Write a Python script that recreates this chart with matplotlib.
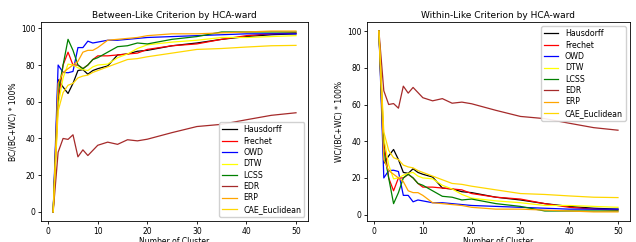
import matplotlib
matplotlib.use("Agg")
import matplotlib.pyplot as plt

clusters = [1, 2, 3, 4, 5, 6, 7, 8, 9, 10, 12, 14, 16, 18, 20, 25, 30, 35, 40, 45, 50]
methods = ["Hausdorff", "Frechet", "OWD", "DTW", "LCSS", "EDR", "ERP", "CAE_Euclidean"]
colors = ["black", "red", "blue", "yellow", "green", "brown", "orange", "gold"]

between_hausdorff = [0, 72, 68, 64.5, 70, 77, 77.5, 75, 77, 78, 79.5, 85.5, 86, 87.5, 88, 90.5, 92, 94, 95.5, 96.5, 97]
between_frechet = [0, 60, 80, 87, 80, 80, 78, 80, 83, 85, 85, 85.5, 86, 86.5, 88.5, 90.5, 91.5, 94, 96, 97, 97.5]
between_owd = [0, 80, 76, 75.8, 76.5, 89.5, 89.5, 93, 92, 92.5, 93.5, 93.5, 94, 94.5, 95, 95.5, 96, 96.5, 97, 97, 97]
between_dtw = [0, 58, 73, 80.5, 80, 78.5, 77.5, 77, 79, 80, 80.5, 84, 86, 89, 91, 92.5, 93.5, 95, 95, 95.5, 96]
between_lcss = [0, 65, 80, 94, 88, 80, 78, 80, 83, 84, 87, 90, 90.5, 92, 91.5, 94, 95.5, 98, 98, 98, 98]
between_edr = [0, 32.5, 40, 39.5, 42, 30, 33.8, 30.7, 33.5, 36.3, 38, 36.8, 39.3, 38.7, 39.6, 43.2, 46.5, 47.7, 50.2, 52.6, 54]
between_erp = [0, 70, 76, 78, 80, 82, 87, 88, 88, 89.5, 93.5, 94, 94.5, 95, 96, 97, 97, 97.5, 98, 98.5, 98.5]
between_cae = [0, 55, 65, 69, 70, 73, 74, 74.5, 76, 77, 79, 81, 83, 83.5, 84.5, 86.5, 88.5, 89, 89.8, 90.5, 90.7]

within_hausdorff = [100, 28, 32, 35.5, 30, 23, 22.5, 25, 23, 22, 20.5, 14.5, 14, 12.5, 12, 9.5, 8, 6, 4.5, 3.5, 3]
within_frechet = [100, 40, 20, 13, 20, 20, 22, 20, 17, 15, 15, 14.5, 14, 13.5, 11.5, 9.5, 8.5, 6, 4, 3, 2.5]
within_owd = [100, 20, 24, 24.2, 23.5, 10.5, 10.5, 7, 8, 7.5, 6.5, 6.5, 6, 5.5, 5, 4.5, 4, 3.5, 3, 3, 3]
within_dtw = [100, 42, 27, 19.5, 20, 21.5, 22.5, 23, 21, 20, 19.5, 16, 14, 11, 9, 7.5, 6.5, 5, 5, 4.5, 4]
within_lcss = [100, 35, 20, 6, 12, 20, 22, 20, 17, 16, 13, 10, 9.5, 8, 8.5, 6, 4.5, 2, 2, 2, 2]
within_edr = [100, 67.5, 60, 60.5, 58, 70, 66.2, 69.3, 66.5, 63.7, 62, 63.2, 60.7, 61.3, 60.4, 56.8, 53.5, 52.3, 49.8, 47.4, 46]
within_erp = [100, 30, 24, 22, 20, 18, 13, 12, 12, 10.5, 6.5, 6, 5.5, 5, 4, 3, 3, 2.5, 2, 1.5, 1.5]
within_cae = [100, 45, 35, 31, 30, 27, 26, 25.5, 24, 23, 21, 19, 17, 16.5, 15.5, 13.5, 11.5, 11, 10.2, 9.5, 9.3]

between = [between_hausdorff, between_frechet, between_owd, between_dtw,
           between_lcss, between_edr, between_erp, between_cae]
within = [within_hausdorff, within_frechet, within_owd, within_dtw,
          within_lcss, within_edr, within_erp, within_cae]

fig = plt.figure(figsize=(6.36, 2.42), dpi=100)
ax1 = fig.add_axes([0.0645, 0.087, 0.42, 0.822])
ax2 = fig.add_axes([0.577, 0.087, 0.4135, 0.822])

fs_tick = 5.5
fs_label = 5.5
fs_title = 6.5

for ax, data, title, ylabel, loc in [
    (ax1, between, "Between-Like Criterion by HCA-ward", "BC/(BC+WC) * 100%", "lower right"),
    (ax2, within, "Within-Like Criterion by HCA-ward", "WC/(BC+WC) * 100%", "upper right"),
]:
    for name, c, vals in zip(methods, colors, data):
        ax.plot(clusters, vals, color=c, lw=0.9, label=name)
    ax.set_title(title, fontsize=fs_title, pad=3)
    ax.set_xlabel("Number of Cluster", fontsize=fs_label, labelpad=1)
    ax.set_ylabel(ylabel, fontsize=fs_label, labelpad=2)
    ax.tick_params(labelsize=fs_tick, length=2.5, width=0.6, pad=1.5)
    ax.set_xticks([0, 10, 20, 30, 40, 50])
    ax.set_yticks([0, 20, 40, 60, 80, 100])
    for s in ax.spines.values():
        s.set_linewidth(0.6)
    ax.legend(loc=loc, fontsize=5.7, handlelength=1.8, labelspacing=0.3,
              borderpad=0.4, framealpha=0.9)

fig.savefig("out.png", dpi=100)
